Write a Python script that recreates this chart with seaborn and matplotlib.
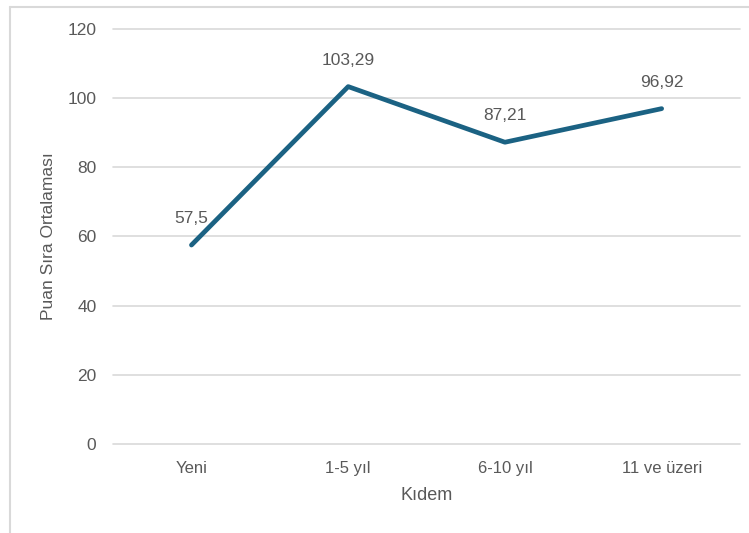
import seaborn as sns
import matplotlib.pyplot as plt
from matplotlib.lines import Line2D

# chart data
categories = ['Yeni', '1-5 yıl', '6-10 yıl', '11 ve üzeri']
values = [57.5, 103.29, 87.21, 96.92]
labels = ['57,5', '103,29', '87,21', '96,92']

sns.set_style('white')
plt.rcParams['font.family'] = ['Liberation Sans', 'DejaVu Sans']

text_color = '#595959'
line_color = '#1B6283'

fig = plt.figure(figsize=(7.49, 5.33), dpi=100)
ax = fig.add_axes([0.151, 0.167, 0.837, 0.779])

sns.lineplot(x=list(range(len(categories))), y=values, ax=ax,
             color=line_color, linewidth=3.4, solid_capstyle='round')

# data labels above each point
for i, (v, lab) in enumerate(zip(values, labels)):
    ax.annotate(lab, (i, v), xytext=(0, 19), textcoords='offset points',
                ha='center', va='center', fontsize=12.5, color=text_color)

ax.set_xlim(-0.5, len(categories) - 0.5)
ax.set_ylim(0, 120)
ax.set_yticks(range(0, 121, 20))
ax.set_xticks(range(len(categories)))
ax.set_xticklabels(categories)
ax.grid(axis='y', color='#D9D9D9', linewidth=1.2)
for gl in ax.get_ygridlines():
    gl.set_clip_on(False)
ax.set_axisbelow(True)
for s in ax.spines.values():
    s.set_visible(False)
ax.tick_params(axis='y', length=0, pad=12, labelsize=12.5, labelcolor=text_color)
ax.tick_params(axis='x', length=0, pad=12, labelsize=12, labelcolor=text_color)

ax.set_xlabel('Kıdem', fontsize=13, color=text_color, labelpad=8)
ax.set_ylabel('Puan Sıra Ortalaması', fontsize=12.5, color=text_color, labelpad=8)

# light chart-area border (left and top edges visible)
fig.add_artist(Line2D([10 / 749, 10 / 749], [0, 1 - 7 / 533], transform=fig.transFigure,
                      color='#D9D9D9', linewidth=1.5))
fig.add_artist(Line2D([10 / 749, 1], [1 - 7 / 533, 1 - 7 / 533], transform=fig.transFigure,
                      color='#D9D9D9', linewidth=1.5))

fig.savefig('out.png', dpi=100)
